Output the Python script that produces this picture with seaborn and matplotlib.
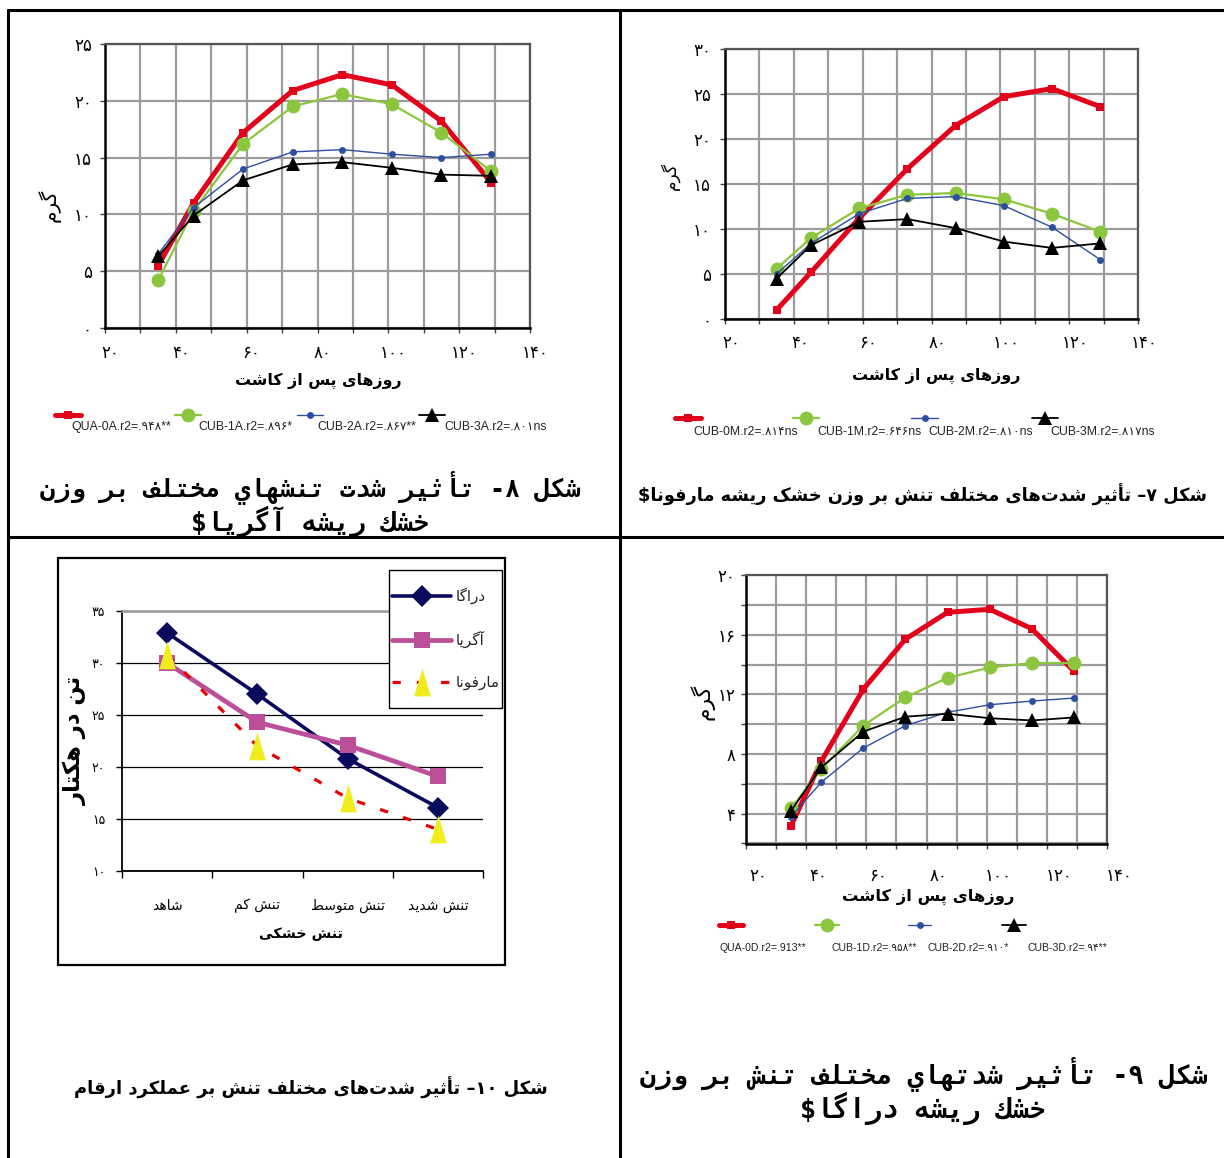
import re
import numpy as np
import matplotlib
matplotlib.use("Agg")
import matplotlib.pyplot as plt
import matplotlib.transforms as mtransforms
import seaborn as sns
from matplotlib.legend_handler import HandlerLine2D
from matplotlib.lines import Line2D
from matplotlib.patches import Rectangle
from matplotlib.ticker import FixedLocator, FuncFormatter, MultipleLocator

# ---- data ----
days = [35, 45, 59, 73, 87, 101, 115, 129]

# fig 8 - Agria
agria_labels = ["QUA-0A.r2=.۹۴۸**", "CUB-1A.r2=.۸۹۶*", "CUB-2A.r2=.۸۶۷**", "CUB-3A.r2=.۸۰۱ns"]
agria_qua0 = [5.5, 11.0, 17.2, 20.9, 22.3, 21.4, 18.2, 12.8]
agria_cub1 = [4.2, 10.3, 16.2, 19.5, 20.6, 19.7, 17.2, 13.8]
agria_cub2 = [6.5, 10.6, 14.0, 15.5, 15.7, 15.3, 15.0, 15.3]
agria_cub3 = [6.3, 9.9, 13.0, 14.4, 14.6, 14.1, 13.5, 13.4]

# fig 7 - Marfona
marfona_labels = ["CUB-0M.r2=.۸۱۴ns", "CUB-1M.r2=.۶۴۶ns", "CUB-2M.r2=.۸۱۰ns", "CUB-3M.r2=.۸۱۷ns"]
marfona_cub0 = [1.0, 5.2, 11.2, 16.7, 21.5, 24.7, 25.6, 23.6]
marfona_cub1 = [5.6, 9.0, 12.3, 13.8, 14.0, 13.3, 11.7, 9.7]
marfona_cub2 = [5.0, 8.4, 11.7, 13.4, 13.6, 12.6, 10.2, 6.6]
marfona_cub3 = [4.5, 8.2, 10.8, 11.1, 10.1, 8.6, 7.9, 8.4]

# fig 9 - Draga
draga_labels = ["QUA-0D.r2=.913**", "CUB-1D.r2=.۹۵۸**", "CUB-2D.r2=.۹۱۰*", "CUB-3D.r2=.۹۴**"]
draga_qua0 = [3.2, 7.5, 12.35, 15.7, 17.5, 17.7, 16.4, 13.55]
draga_cub1 = [4.35, 7.0, 9.9, 11.8, 13.1, 13.8, 14.1, 14.1]
draga_cub2 = [3.8, 6.1, 8.4, 9.9, 10.8, 11.3, 11.55, 11.75]
draga_cub3 = [4.2, 7.1, 9.5, 10.5, 10.7, 10.4, 10.25, 10.45]

# fig 10 - yield
stress_levels = ["شاهد", "تنش کم", "تنش متوسط", "تنش شدید"]
cultivars = ["دراگا", "آگریا", "مارفونا"]
yield_draga = [32.9, 27.0, 20.8, 16.1]
yield_agria = [30.0, 24.3, 22.1, 19.1]
yield_marfona = [30.8, 22.0, 17.0, 14.0]

cap8 = ["شکل ۸- تأثیر شدت تنشهاي مختلف بر وزن", "خشك ریشه آگریا$"]
cap7 = "شکل ۷– تأثیر شدت‌های مختلف تنش بر وزن خشک ریشه مارفونا$"
cap9 = ["شکل ۹- تأثیر شدتهاي مختلف تنش بر وزن", "خشك ریشه دراگا$"]
cap10 = "شکل ۱۰– تأثیر شدت‌های مختلف تنش بر عملکرد ارقام"
days_label = "روزهای پس از کاشت"
gram_label = "گرم"

# ---- tiny Persian shaper (matplotlib does no Arabic shaping / bidi) ----
FORMS = {'ء': (0xFE80, 1), 'آ': (0xFE81, 2), 'أ': (0xFE83, 2), 'ؤ': (0xFE85, 2), 'إ': (0xFE87, 2),
         'ئ': (0xFE89, 4), 'ا': (0xFE8D, 2), 'ب': (0xFE8F, 4), 'ة': (0xFE93, 2), 'ت': (0xFE95, 4),
         'ث': (0xFE99, 4), 'ج': (0xFE9D, 4), 'ح': (0xFEA1, 4), 'خ': (0xFEA5, 4), 'د': (0xFEA9, 2),
         'ذ': (0xFEAB, 2), 'ر': (0xFEAD, 2), 'ز': (0xFEAF, 2), 'س': (0xFEB1, 4), 'ش': (0xFEB5, 4),
         'ص': (0xFEB9, 4), 'ض': (0xFEBD, 4), 'ط': (0xFEC1, 4), 'ظ': (0xFEC5, 4), 'ع': (0xFEC9, 4),
         'غ': (0xFECD, 4), 'ف': (0xFED1, 4), 'ق': (0xFED5, 4), 'ك': (0xFED9, 4), 'ل': (0xFEDD, 4),
         'م': (0xFEE1, 4), 'ن': (0xFEE5, 4), 'ه': (0xFEE9, 4), 'و': (0xFEED, 2), 'ى': (0xFEEF, 2),
         'ي': (0xFEF1, 4), 'پ': (0xFB56, 4), 'چ': (0xFB7A, 4), 'ژ': (0xFB8A, 2), 'ک': (0xFB8E, 4),
         'گ': (0xFB92, 4), 'ی': (0xFBFC, 4)}
TATWEEL = '\u0640'


def _dual(c):
    return c == TATWEEL or FORMS.get(c, (0, 0))[1] == 4


def _joins(c):
    return c == TATWEEL or FORMS.get(c, (0, 0))[1] >= 2


def fa(text):
    out = []
    for i, c in enumerate(text):
        if c not in FORMS:
            if c != '\u200c':
                out.append(c)
            continue
        base, n = FORMS[c]
        right = n >= 2 and i > 0 and _dual(text[i - 1])
        left = n == 4 and i + 1 < len(text) and _joins(text[i + 1])
        k = 3 if (right and left) else 1 if right else 2 if left else 0
        out.append(chr(base + k))
    runs = re.findall(r'[0-9A-Za-z\u06F0-\u06F9]+|.', ''.join(out), re.S)
    return ''.join(runs[::-1])


FA_DIGITS = str.maketrans("0123456789", "۰۱۲۳۴۵۶۷۸۹")


def to_fa(v):
    return f"{v:g}".translate(FA_DIGITS)


sns.set_theme(style="white")
plt.rcParams['font.family'] = ['DejaVu Sans']
LEG_FONT = ['Liberation Sans', 'DejaVu Sans']

W, H = 1224, 1158
fig = plt.figure(figsize=(W / 100, H / 100), dpi=100)
fig.patch.set_facecolor('white')
renderer = fig.canvas.get_renderer()


def fx(x):
    return x / W


def fy(y):
    return 1 - y / H


def px_axes(x0, y0, x1, y1):
    return fig.add_axes([fx(x0), fy(y1), (x1 - x0) / W, (y1 - y0) / H])


def fit(t, size_px, dim='width'):
    bb = t.get_window_extent(renderer)
    cur = bb.width if dim == 'width' else bb.height
    t.set_fontsize(t.get_fontsize() * size_px / cur)
    return t


def caption(x, y, s, width, family='DejaVu Sans'):
    t = fig.text(fx(x), fy(y), fa(s), ha='center', va='center', fontweight='bold',
                 family=family, fontsize=14, color='black')
    return fit(t, width)


def shift_xticklabels(ax, dx_px):
    off = mtransforms.ScaledTranslation(dx_px / 100, 0, fig.dpi_scale_trans)
    for t in ax.get_xticklabels():
        t.set_transform(t.get_transform() + off)


# table grid lines
for (x0, y0, x1, y1) in [(8, 10, 1224, 10), (8, 537, 1224, 537), (8, 10, 8, 1158), (620, 10, 620, 1158)]:
    fig.add_artist(Line2D([fx(x0), fx(x1)], [fy(y0), fy(y1)], color='black', lw=2.2))


class RaisedHandler(HandlerLine2D):
    def __init__(self, raise_pt, **kw):
        super().__init__(**kw)
        self.raise_pt = raise_pt

    def create_artists(self, legend, orig_handle, xdescent, ydescent, width, height, fontsize, trans):
        arts = super().create_artists(legend, orig_handle, xdescent, ydescent, width, height, fontsize, trans)
        for a in arts:
            a.set_ydata(np.asarray(a.get_ydata(), float) + self.raise_pt)
        return arts


STYLES = [dict(color='#e2001a', lw=3.6, marker='s', ms=5.5),
          dict(color='#8cc63e', lw=1.6, marker='o', ms=10),
          dict(color='#2e4ea0', lw=1.0, marker='o', ms=5),
          dict(color='#000000', lw=1.3, marker='^', ms=10)]


def growth_panel(rect, series, labels, ylim, ystep, label_step, xpad, ypad, xshift, ylab, xlab, legend_spec):
    ax = px_axes(*rect)
    for vals, lab, st in zip(series, labels, STYLES):
        sns.lineplot(x=days, y=vals, ax=ax, label=lab, legend=False, mec=st['color'], mew=0, **st)
    ax.set_xlim(20, 140)
    ax.set_ylim(*ylim)
    ax.xaxis.set_major_locator(MultipleLocator(20))
    ax.xaxis.set_minor_locator(MultipleLocator(10))
    ax.yaxis.set_major_locator(MultipleLocator(ystep))
    ax.xaxis.set_major_formatter(FuncFormatter(lambda v, p: to_fa(v)))
    ax.yaxis.set_major_formatter(FuncFormatter(
        lambda v, p: to_fa(v) if abs(v / label_step - round(v / label_step)) < 1e-6 else ''))
    ax.grid(True, which='both', axis='x', color='#9c9c9c', lw=1.6)
    ax.grid(True, which='major', axis='y', color='#9c9c9c', lw=1.6)
    ax.set_axisbelow(True)
    ax.set_facecolor('white')
    for side in ['left', 'bottom']:
        ax.spines[side].set_color('black')
        ax.spines[side].set_linewidth(1.8)
    for side in ['top', 'right']:
        ax.spines[side].set_color('#555555')
        ax.spines[side].set_linewidth(1.6)
    ax.tick_params(axis='both', which='both', direction='out', length=3.5, width=1, color='#444444',
                   labelsize=12, labelcolor='black')
    ax.tick_params(axis='x', which='both', bottom=True, pad=xpad)
    ax.tick_params(axis='y', left=True, pad=ypad)
    shift_xticklabels(ax, xshift)
    ax.set_xlabel(fa(days_label), fontweight='bold', fontsize=13, color='black')
    ax.set_ylabel(fa(gram_label), fontsize=12, color='black')
    bottom, top = rect[3], rect[1]
    lx, ly, lw_ = xlab
    ax.xaxis.set_label_coords((lx - rect[0]) / (rect[2] - rect[0]), (bottom - ly) / (bottom - top))
    ax.xaxis.label.set_va('center')
    fit(ax.xaxis.label, lw_)
    yx, yy, yh = ylab
    ax.yaxis.set_label_coords((yx - rect[0]) / (rect[2] - rect[0]), (bottom - yy) / (bottom - top))
    ax.yaxis.label.set_va('center')
    fit(ax.yaxis.label, yh, 'height')

    hcenters, tstarts, ty, raise_px, fsize = legend_spec
    em = fsize * 100 / 72
    hl = 2.2
    for line, lab, hc, ts in zip(ax.get_lines(), labels, hcenters, tstarts):
        pad = (ts - hc - hl * em / 2) / em
        fig.legend([line], [lab], loc='center left', bbox_to_anchor=(fx(hc - hl * em / 2), fy(ty)),
                   frameon=False, borderpad=0, borderaxespad=0, handlelength=hl, handletextpad=pad,
                   prop=dict(family=LEG_FONT, size=fsize), labelcolor='#222222',
                   handler_map={line: RaisedHandler(raise_px * 0.72)})
    return ax


# fig 8 (top left)
growth_panel((105, 44, 530, 328), [agria_qua0, agria_cub1, agria_cub2, agria_cub3], agria_labels,
             (0, 25), 5, 5, 8.0, 6.0, 5, (49, 205, 33), (318, 381, 166),
             ([68, 188, 310, 432], [71.5, 198, 317, 444.5], 426.5, 10.5, 8.8))
caption(310, 488, cap8[0], 543, 'DejaVu Sans Mono')
caption(310, 521, cap8[1], 239, 'DejaVu Sans Mono')

# fig 7 (top right)
growth_panel((725, 49, 1138, 319), [marfona_cub0, marfona_cub1, marfona_cub2, marfona_cub3], marfona_labels,
             (0, 30), 5, 5, 7.5, 6.5, 6, (670, 176, 28), (936, 376, 168),
             ([688, 806, 924.5, 1045], [693, 817, 928, 1050], 432, 13, 8.8))
caption(923, 495, cap7, 573)

# fig 9 (bottom right)
growth_panel((746, 575, 1107, 843.5), [draga_qua0, draga_cub1, draga_cub2, draga_cub3], draga_labels,
             (2, 20), 2, 4, 13.5, 4.0, 12, (702, 702, 36), (928, 897, 172),
             ([731, 827, 919.5, 1014], [719, 831, 928, 1028], 948, 22.5, 7.6))
caption(923, 1074, cap9[0], 569, 'DejaVu Sans Mono')
caption(923, 1108, cap9[1], 246, 'DejaVu Sans Mono')

# fig 10 (bottom left)
fig.add_artist(Rectangle((fx(58), fy(965)), (505 - 58) / W, (965 - 558) / H, transform=fig.transFigure,
                         fc='white', ec='black', lw=1.6, zorder=0))
ax4 = px_axes(122, 611, 483, 871)
cats = [fa(s) for s in stress_levels]
tall_tri = [(-0.6, -1.0), (0.6, -1.0), (0.0, 1.0)]
BL_STYLES = [dict(color='#0b0b5e', lw=2.6, marker='D', ms=11, mfc='#0b0b5e', mec='#0b0b5e'),
             dict(color='#bb4f99', lw=3.4, marker='s', ms=11.5, mfc='#bb4f99', mec='#bb4f99'),
             dict(color='#e60000', lw=2.3, ls=(0, (2.6, 5.0)), marker=tall_tri, ms=20,
                  mfc='#f0ec1e', mec='#f0ec1e')]
for vals, name, st in zip([yield_draga, yield_agria, yield_marfona], cultivars, BL_STYLES):
    sns.lineplot(x=cats, y=vals, sort=False, ax=ax4, label=fa(name), legend=False, mew=0, **st)
ax4.set_xlim(-0.5, 3.5)
ax4.set_ylim(10, 35)
ax4.yaxis.set_major_locator(MultipleLocator(5))
ax4.yaxis.set_major_formatter(FuncFormatter(lambda v, p: to_fa(v)))
ax4.xaxis.set_minor_locator(FixedLocator([-0.5, 0.5, 1.5, 2.5, 3.5]))
ax4.grid(True, axis='y', color='black', lw=0.9)
ax4.set_axisbelow(True)
ax4.set_facecolor('white')
ax4.spines['right'].set_visible(False)
ax4.spines['top'].set_color('#999999')
ax4.spines['top'].set_linewidth(1.8)
for side in ['left', 'bottom']:
    ax4.spines[side].set_color('black')
    ax4.spines[side].set_linewidth(1.3)
ax4.tick_params(axis='x', which='major', length=0, pad=20, labelsize=10, labelcolor='black')
ax4.tick_params(axis='x', which='minor', bottom=True, length=5, width=1, color='black', direction='out')
ax4.tick_params(axis='y', left=True, length=4, width=1, color='black', direction='out', pad=8,
                labelsize=9, labelcolor='black')
ax4.set_xlabel(fa("تنش خشکی"), fontweight='bold', fontsize=13, color='black')
ax4.xaxis.set_label_coords(0.496, -0.242)
ax4.xaxis.label.set_va('center')
fit(ax4.xaxis.label, 84)
ax4.set_ylabel(fa("تن در هکتار"), fontweight='bold', fontsize=17, color='black')
ax4.yaxis.set_label_coords(-0.13, 0.504)
ax4.yaxis.label.set_va('center')
fit(ax4.yaxis.label, 130, 'height')

# legend box of fig 10 (drawn as its own frame so the padding can differ per side)
fig.add_artist(Rectangle((fx(389), fy(708)), (502 - 389) / W, (708 - 570) / H, transform=fig.transFigure,
                         fc='white', ec='black', lw=1.0, zorder=3))
fig.legend(handles=ax4.get_lines(), labels=[fa(c) for c in cultivars], loc='center',
           bbox_to_anchor=(fx(445.5), fy(639)), frameon=False, fontsize=11, handlelength=3.9,
           labelspacing=1.75, borderpad=0, handletextpad=0.25, borderaxespad=0)
caption(311, 1088, cap10, 473)

fig.savefig('out.png', dpi=100, facecolor='white')
